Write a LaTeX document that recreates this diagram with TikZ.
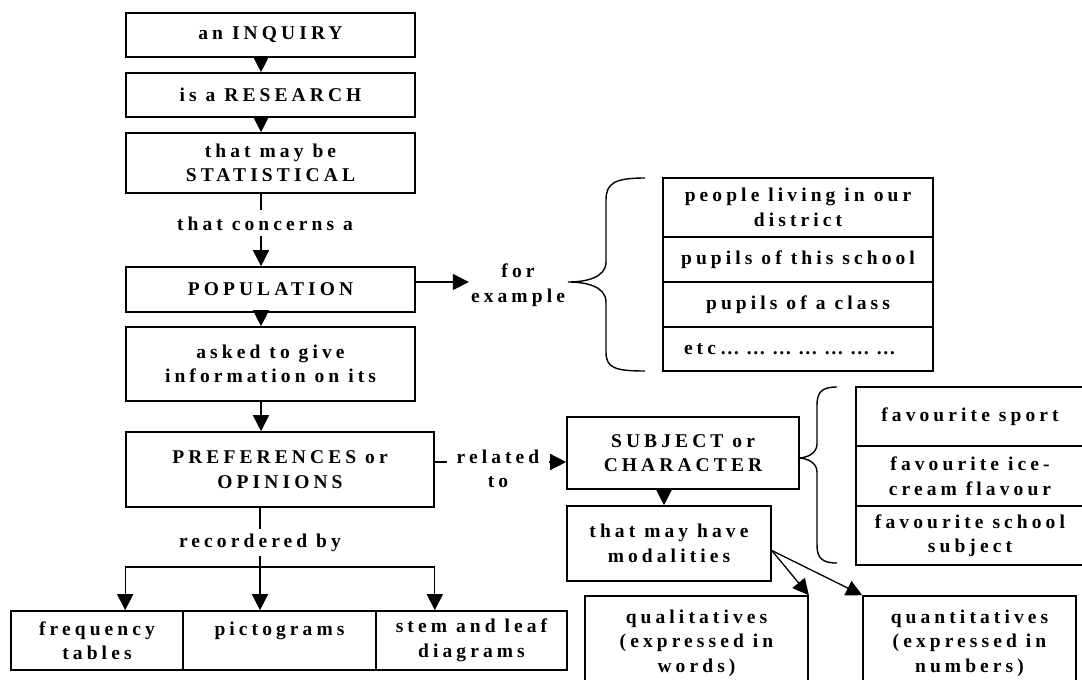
\documentclass[tikz,border=0pt]{standalone}
\usepackage{fontspec}
\setmainfont{Liberation Serif}[LetterSpace=21]
\usetikzlibrary{arrows.meta,calc}
\newcommand\dtxt{\fontsize{19.5}{24.5}\selectfont\bfseries}
\tikzset{
  bx/.style={draw, line width=1.6pt, inner sep=0pt, align=center, font=\dtxt},
  lab/.style={inner sep=0pt, align=center, font=\dtxt},
  ln/.style={line width=1.3pt},
  arr/.style={line width=1.3pt, -{Triangle[length=16pt,width=16pt]}},
  brace/.style={line width=1.4pt},
}
\begin{document}
\begin{tikzpicture}[x=1pt,y=-1pt]
\useasboundingbox (0,0) rectangle (1082,680);
\fill[white] (0,0) rectangle (1082,680);
\clip (0,0) rectangle (1082,680);
% helper coordinates
\coordinate (ax) at (261,0);
\coordinate (bx2) at (664,0);
\coordinate (bx3) at (260,0);
\coordinate (r1) at (0,282);
\coordinate (r2) at (0,462);
\coordinate (r3) at (0,567);
% left column
\node[bx, minimum width=289, minimum height=44] (inq) at (270.5,35) {an INQUIRY};
\node[bx, minimum width=289, minimum height=44] (res) at (270.5,95) {is a RESEARCH};
\node[bx, minimum width=289, minimum height=60] (stat) at (270.5,163) {that may be\\STATISTICAL};
\node[lab] (conc) at (265,224) {that concerns a};
\node[bx, minimum width=289, minimum height=45] (pop) at (270.5,289.5) {POPULATION};
\node[bx, minimum width=289, minimum height=74] (ask) at (270.5,364) {asked to give\\information on its};
\node[bx, minimum width=308, minimum height=75] (pref) at (280,469.5) {PREFERENCES or\\OPINIONS};
\draw[arr] (inq.south -| ax) -- (res.north -| ax);
\draw[arr] (res.south -| ax) -- (stat.north -| ax);
\draw[ln, shorten >=7pt] (stat.south -| ax) -- (conc.north -| ax);
\draw[arr, shorten <=5pt] (conc.south -| ax) -- (pop.north -| ax);
\draw[arr] (pop.south -| ax) -- (ask.north -| ax);
\draw[arr] (ask.south -| ax) -- (pref.north -| ax);
% population examples
\node[lab] (forex) at (518,285) {for\\example};
\draw[arr, shorten >=2pt] (pop.east |- r1) -- (forex.west |- r1);
\draw[brace] (645,178) .. controls (615,178) and (606,183) .. (606,200) -- (606,262)
  .. controls (606,278) and (585,282) .. (568,282)
  .. controls (585,282) and (606,286) .. (606,302) -- (606,352)
  .. controls (606,368) and (615,371) .. (645,371);
\node[bx, minimum width=270, minimum height=59] (ex1) at (798,207.5) {people living in our\\district};
\node[bx, minimum width=270, minimum height=45] (ex2) at (798,259.5) {pupils of this school};
\node[bx, minimum width=270, minimum height=45] (ex3) at (798,304.5) {pupils of a class};
\node[bx, minimum height=44, text width=228pt, inner xsep=21pt, align=left] (ex4) at (798,349) {etc… … … … … … …};
% related to
\node[lab] (rel) at (498,469) {related\\to};
\node[bx, minimum width=232, minimum height=72] (sub) at (683,453) {SUBJECT or\\CHARACTER};
\draw[ln, shorten >=9pt] (pref.east |- r2) -- (rel.west |- r2);
\draw[arr, shorten <=9pt] (rel.east |- r2) -- (sub.west |- r2);
\node[bx, minimum width=204, minimum height=75] (mod) at (669,543.5) {that may have\\modalities};
\draw[arr] (sub.south -| bx2) -- (mod.north -| bx2);
\draw[brace] (837,387) .. controls (822,387) and (817,392) .. (817,405) -- (817,444)
  .. controls (817,454) and (806,458) .. (798,458)
  .. controls (806,458) and (817,462) .. (817,472) -- (817,545)
  .. controls (817,558) and (822,563) .. (837,563);
\node[bx, minimum width=228, minimum height=59] (fav1) at (970,416.5) {favourite sport};
\node[bx, minimum width=228, minimum height=60] (fav2) at (970,476) {favourite ice-\\cream flavour};
\node[bx, minimum width=228, minimum height=59] (fav3) at (970,535.5) {favourite school\\subject};
\node[bx, minimum width=223, minimum height=94] (qual) at (696.5,643) {qualitatives\\(expressed in\\words)};
\node[bx, minimum width=213, minimum height=94] (quant) at (969.5,643) {quantitatives\\(expressed in\\numbers)};
\coordinate (mp) at ($(mod.east)+(0,7)$);
\draw[arr] (mp) -- (qual.north east);
\draw[arr] (mp) -- (quant.north west);
% recorded by
\node[lab] (rec) at (260,543) {recordered by};
\node[bx, minimum width=172, minimum height=59] (fq) at (97,640.5) {frequency\\tables};
\node[bx, minimum width=193, minimum height=59] (pic) at (279.5,640.5) {pictograms\\\mbox{}};
\node[bx, minimum width=191, minimum height=59] (stem) at (471.5,640.5) {stem and leaf\\diagrams};
\draw[ln, shorten >=5pt] (pref.south -| bx3) -- (rec.north -| bx3);
\draw[ln, shorten <=4pt] (rec.south -| bx3) -- (bx3 |- r3);
\draw[ln] (pref.west |- r3) -- (pref.east |- r3);
\draw[arr] (pref.west |- r3) -- (pref.west |- fq.north);
\draw[arr] (bx3 |- r3) -- (bx3 |- pic.north);
\draw[arr] (pref.east |- r3) -- (pref.east |- stem.north);
\end{tikzpicture}
\end{document}
